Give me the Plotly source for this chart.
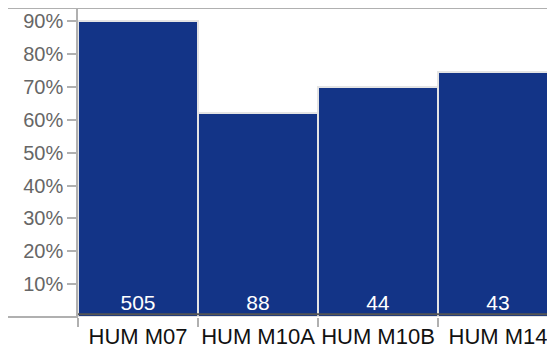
import plotly.graph_objects as go

categories = ["HUM M07", "HUM M10A", "HUM M10B", "HUM M14"]
shares = [0.900, 0.621, 0.700, 0.744]
counts = [505, 88, 44, 43]
y_ticks = [0.1, 0.2, 0.3, 0.4, 0.5, 0.6, 0.7, 0.8, 0.9]

# page body adds an 8px margin, so the figure is sized to the remaining window
W, H = 547, 343
ML, MT, MB = 70, 0, 34
plot_w = W - ML

fig = go.Figure()
fig.add_trace(go.Bar(
    x=categories,
    y=shares,
    text=[str(c) for c in counts],
    textposition="inside",
    insidetextanchor="start",
    textangle=0,
    textfont=dict(color="white", size=21, family="Liberation Sans, Arial, sans-serif"),
    marker=dict(color="#133487", line=dict(color="#e4e4e4", width=2)),
    hoverinfo="skip",
))

left_ext = -ML / plot_w

fig.update_layout(
    width=W, height=H,
    margin=dict(l=ML, r=0, t=MT, b=MB, pad=0),
    paper_bgcolor="white",
    plot_bgcolor="white",
    bargap=0,
    showlegend=False,
    font=dict(family="Liberation Sans, Arial, sans-serif"),
    xaxis=dict(
        type="category",
        range=[-0.5, -0.5 + plot_w / 120.0],
        automargin=False,
        showgrid=False,
        showline=False,
        zeroline=False,
        ticks="outside",
        tickson="boundaries",
        ticklen=9,
        tickwidth=2,
        tickcolor="#b0b0b0",
        tickangle=0,
        ticklabelstandoff=4,
        tickfont=dict(size=22, color="#111111"),
    ),
    yaxis=dict(
        range=[0, 0.940],
        automargin=False,
        tickvals=y_ticks,
        tickformat=".0%",
        showgrid=False,
        zeroline=False,
        showline=True,
        linecolor="#b0b0b0",
        linewidth=1.5,
        ticks="outside",
        ticklen=9,
        tickwidth=2,
        tickcolor="#b0b0b0",
        tickfont=dict(size=20, color="#666666"),
    ),
    shapes=[
        dict(type="line", xref="paper", yref="paper", x0=left_ext, x1=1, y0=1, y1=1,
             line=dict(color="#b0b0b0", width=2)),
        dict(type="line", xref="paper", yref="paper", x0=left_ext, x1=0, y0=0, y1=0,
             line=dict(color="#b0b0b0", width=2)),
        dict(type="line", xref="paper", yref="y", x0=0, x1=1, y0=0.008, y1=0.008,
             line=dict(color="#555555", width=2)),
    ],
)

fig.write_html("out.html")
